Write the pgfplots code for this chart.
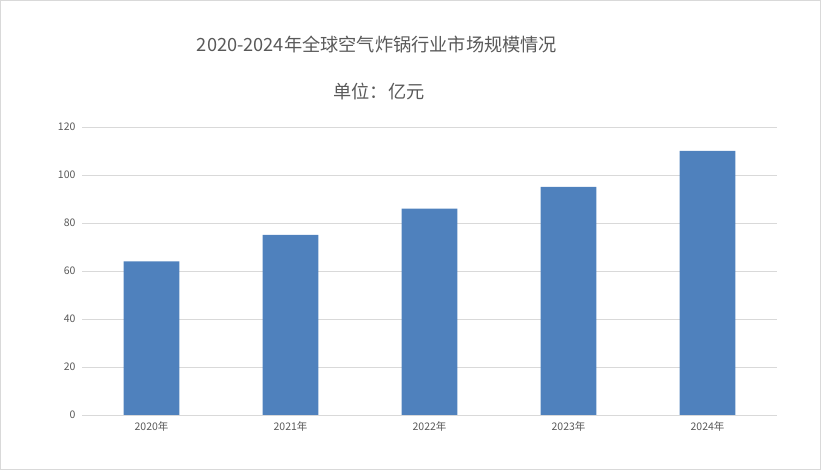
\documentclass[border=0pt]{standalone}
\usepackage{pgfplots}
\pgfplotsset{compat=1.18}
\usepackage{fontspec}
\setmainfont{Noto Sans CJK SC}
\definecolor{barblue}{HTML}{4F81BD}
\definecolor{gridgray}{HTML}{D9D9D9}
\definecolor{txtgray}{HTML}{595959}
\definecolor{framegray}{HTML}{D9D9D9}

\begin{document}
\begin{tikzpicture}
\useasboundingbox (0,0) rectangle (822pt,473pt);
\draw[framegray, line width=1pt] (0.5pt,3pt) rectangle (820pt,472.5pt);
\node[txtgray, font=\fontsize{18.2}{21}\selectfont] at (377pt,428pt) {2020-2024年全球空气炸锅行业市场规模情况};
\node[txtgray, font=\fontsize{18.2}{21}\selectfont] at (379pt,381pt) {单位：亿元};

\begin{axis}[
  at={(82pt,58pt)}, anchor=south west,
  scale only axis,
  width=695pt, height=288pt,
  ymin=0, ymax=120, ytick={0,20,...,120},
  xmin=-0.5, xmax=4.5,
  xtick={0,1,2,3,4},
  xticklabels={2020年,2021年,2022年,2023年,2024年},
  axis line style={draw=none},
  major tick length=0pt,
  ymajorgrids,
  grid style={gridgray, line width=0.8pt},
  tick label style={txtgray, font=\fontsize{10.5}{12}\selectfont},
  /pgf/number format/assume math mode=true,
  yticklabel style={xshift=-3pt},
  xticklabel style={yshift=-3pt},
  ybar, bar width=0.40,
  clip=false,
]
\addplot[fill=barblue, draw=none] coordinates {(0,64) (1,75) (2,86) (3,95) (4,110)};
\end{axis}
\end{tikzpicture}
\end{document}
